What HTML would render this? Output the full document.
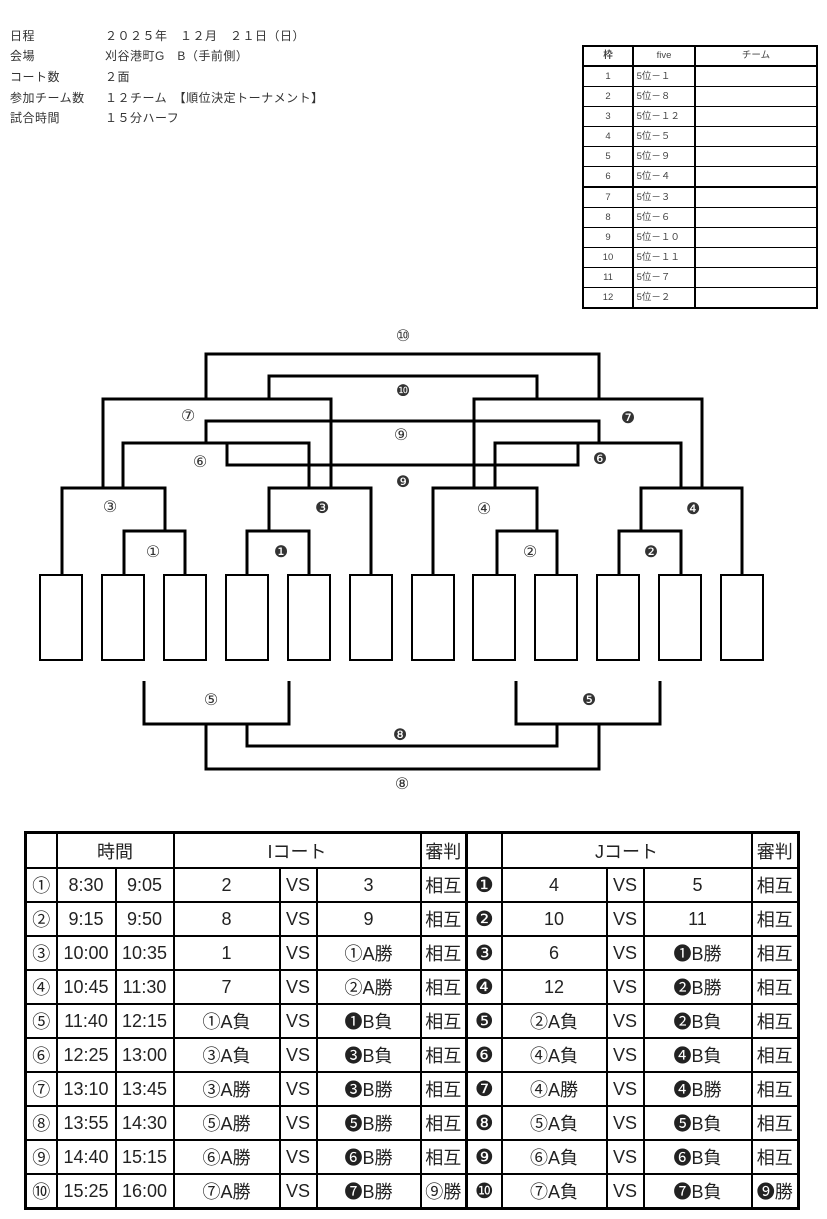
<!DOCTYPE html>
<html><head><meta charset="utf-8"><style>
body{margin:0;width:827px;height:1219px;background:#fff;position:relative;overflow:hidden;font-family:"Liberation Sans","Noto Sans CJK JP","DejaVu Sans",sans-serif;color:#333}
.info{position:absolute;font-size:12px;white-space:pre;letter-spacing:0.5px}
#t1{position:absolute;left:582px;top:45px;border-collapse:collapse;table-layout:fixed;font-size:9.5px}
#t1 td{border:1px solid #000;height:19px;padding:0;color:#444;line-height:12px}
#t1 tr:first-child td{height:18px}
#t2{position:absolute;left:24px;top:831px;border-collapse:collapse;table-layout:fixed;font-family:"Liberation Sans Narrow","Liberation Sans","Noto Sans CJK JP","DejaVu Sans",sans-serif;font-size:18px;color:#222}
#t2 td{border:2px solid #000;height:32px;padding:0;text-align:center;white-space:nowrap;overflow:hidden}
#t2 tr:first-child td{height:33px}
#t2 td.k{border-right:3px solid #000}
.n{font-family:"DejaVu Sans",sans-serif;font-size:21px}
</style></head><body>
<div class="info" style="left:10px;top:27px">日程</div><div class="info" style="left:105px;top:27px">２０２５年　１２月　２１日（日）</div>
<div class="info" style="left:10px;top:47px">会場</div><div class="info" style="left:105px;top:47px">刈谷港町G　B（手前側）</div>
<div class="info" style="left:10px;top:68px">コート数</div><div class="info" style="left:105px;top:68px">２面</div>
<div class="info" style="left:10px;top:89px">参加チーム数</div><div class="info" style="left:105px;top:89px">１２チーム　【順位決定トーナメント】</div>
<div class="info" style="left:10px;top:109px">試合時間</div><div class="info" style="left:105px;top:109px">１５分ハーフ</div>

<table id="t1" style="border:2px solid #000">
<colgroup><col style="width:50px"><col style="width:62px"><col style="width:122px"></colgroup>
<tr><td style="text-align:center;font-weight:bold;border-right:2px solid #000">枠</td><td style="text-align:center;border-right:2px solid #000">five</td><td style="text-align:center">チーム</td></tr>
<tr><td style="text-align:center;border-right:2px solid #000;border-top:2px solid #000">1</td><td style="border-right:2px solid #000;border-top:2px solid #000">&nbsp;5位－１</td><td style="border-top:2px solid #000"></td></tr>
<tr><td style="text-align:center;border-right:2px solid #000">2</td><td style="border-right:2px solid #000">&nbsp;5位－８</td><td></td></tr>
<tr><td style="text-align:center;border-right:2px solid #000">3</td><td style="border-right:2px solid #000">&nbsp;5位－１２</td><td></td></tr>
<tr><td style="text-align:center;border-right:2px solid #000">4</td><td style="border-right:2px solid #000">&nbsp;5位－５</td><td></td></tr>
<tr><td style="text-align:center;border-right:2px solid #000">5</td><td style="border-right:2px solid #000">&nbsp;5位－９</td><td></td></tr>
<tr><td style="text-align:center;border-right:2px solid #000">6</td><td style="border-right:2px solid #000">&nbsp;5位－４</td><td></td></tr>
<tr><td style="text-align:center;border-right:2px solid #000;border-top:2px solid #000">7</td><td style="border-right:2px solid #000;border-top:2px solid #000">&nbsp;5位－３</td><td style="border-top:2px solid #000"></td></tr>
<tr><td style="text-align:center;border-right:2px solid #000">8</td><td style="border-right:2px solid #000">&nbsp;5位－６</td><td></td></tr>
<tr><td style="text-align:center;border-right:2px solid #000">9</td><td style="border-right:2px solid #000">&nbsp;5位－１０</td><td></td></tr>
<tr><td style="text-align:center;border-right:2px solid #000">10</td><td style="border-right:2px solid #000">&nbsp;5位－１１</td><td></td></tr>
<tr><td style="text-align:center;border-right:2px solid #000">11</td><td style="border-right:2px solid #000">&nbsp;5位－７</td><td></td></tr>
<tr><td style="text-align:center;border-right:2px solid #000">12</td><td style="border-right:2px solid #000">&nbsp;5位－２</td><td></td></tr>
</table>

<svg width="827" height="800" style="position:absolute;left:0;top:0" xmlns="http://www.w3.org/2000/svg">
<g fill="#fff" stroke="#000" stroke-width="2">
<rect x="40" y="575" width="42" height="85"/><rect x="102" y="575" width="42" height="85"/><rect x="164" y="575" width="42" height="85"/><rect x="226" y="575" width="42" height="85"/><rect x="288" y="575" width="42" height="85"/><rect x="350" y="575" width="42" height="85"/><rect x="412" y="575" width="42" height="85"/><rect x="473" y="575" width="42" height="85"/><rect x="535" y="575" width="42" height="85"/><rect x="597" y="575" width="42" height="85"/><rect x="659" y="575" width="42" height="85"/><rect x="721" y="575" width="42" height="85"/>
</g>
<g fill="none" stroke="#000" stroke-width="3">
<polyline points="124,575 124,531 185,531 185,575"/>
<polyline points="62,575 62,488 165,488 165,531"/>
<polyline points="247,575 247,531 309,531 309,575"/>
<polyline points="269,531 269,488 371,488 371,575"/>
<polyline points="123,488 123,443 309,443 309,488"/>
<polyline points="103,488 103,399 331,399 331,488"/>
<polyline points="206,443 206,421 599,421 599,443"/>
<polyline points="227,443 227,465 578,465 578,443"/>
<polyline points="206,399 206,354 599,354 599,399"/>
<polyline points="269,399 269,376 537,376 537,399"/>
<polyline points="433,575 433,488 537,488 537,531"/>
<polyline points="497,575 497,531 557,531 557,575"/>
<polyline points="619,575 619,531 681,531 681,575"/>
<polyline points="641,531 641,488 742,488 742,575"/>
<polyline points="495,488 495,443 681,443 681,488"/>
<polyline points="474,488 474,399 702,399 702,488"/>
<polyline points="144,681 144,724 289,724 289,681"/>
<polyline points="516,681 516,724 660,724 660,681"/>
<polyline points="247,724 247,746 557,746 557,724"/>
<polyline points="206,724 206,769 599,769 599,724"/>
</g>
<g font-family="DejaVu Sans,sans-serif" font-size="16" text-anchor="middle" fill="#333">
<text x="403" y="341">⑩</text><text x="403" y="396">❿</text><text x="188" y="421">⑦</text><text x="628" y="423">❼</text>
<text x="401" y="440">⑨</text><text x="200" y="467">⑥</text><text x="600" y="464">❻</text><text x="403" y="487">❾</text>
<text x="110" y="512">③</text><text x="322" y="513">❸</text><text x="484" y="514">④</text><text x="693" y="514">❹</text>
<text x="153" y="557">①</text><text x="281" y="557">❶</text><text x="530" y="557">②</text><text x="651" y="557">❷</text>
<text x="211" y="705">⑤</text><text x="589" y="705">❺</text><text x="400" y="740">❽</text><text x="402" y="789">⑧</text>
</g>
</svg>

<table id="t2" style="border:3px solid #000">
<colgroup><col style="width:31px"><col style="width:59px"><col style="width:58px"><col style="width:106px"><col style="width:37px"><col style="width:104px"><col style="width:46px"><col style="width:35px"><col style="width:105px"><col style="width:37px"><col style="width:108px"><col style="width:47px"></colgroup>
<tr><td></td><td colspan="2">時間</td><td colspan="3">Iコート</td><td class="k">審判</td><td></td><td colspan="3">Jコート</td><td>審判</td></tr>
<tr><td>①</td><td>8:30</td><td>9:05</td><td>2</td><td>VS</td><td>3</td><td class="k">相互</td><td class="n">❶</td><td>4</td><td>VS</td><td>5</td><td>相互</td></tr>
<tr><td>②</td><td>9:15</td><td>9:50</td><td>8</td><td>VS</td><td>9</td><td class="k">相互</td><td class="n">❷</td><td>10</td><td>VS</td><td>11</td><td>相互</td></tr>
<tr><td>③</td><td>10:00</td><td>10:35</td><td>1</td><td>VS</td><td>①A勝</td><td class="k">相互</td><td class="n">❸</td><td>6</td><td>VS</td><td>❶B勝</td><td>相互</td></tr>
<tr><td>④</td><td>10:45</td><td>11:30</td><td>7</td><td>VS</td><td>②A勝</td><td class="k">相互</td><td class="n">❹</td><td>12</td><td>VS</td><td>❷B勝</td><td>相互</td></tr>
<tr><td>⑤</td><td>11:40</td><td>12:15</td><td>①A負</td><td>VS</td><td>❶B負</td><td class="k">相互</td><td class="n">❺</td><td>②A負</td><td>VS</td><td>❷B負</td><td>相互</td></tr>
<tr><td>⑥</td><td>12:25</td><td>13:00</td><td>③A負</td><td>VS</td><td>❸B負</td><td class="k">相互</td><td class="n">❻</td><td>④A負</td><td>VS</td><td>❹B負</td><td>相互</td></tr>
<tr><td>⑦</td><td>13:10</td><td>13:45</td><td>③A勝</td><td>VS</td><td>❸B勝</td><td class="k">相互</td><td class="n">❼</td><td>④A勝</td><td>VS</td><td>❹B勝</td><td>相互</td></tr>
<tr><td>⑧</td><td>13:55</td><td>14:30</td><td>⑤A勝</td><td>VS</td><td>❺B勝</td><td class="k">相互</td><td class="n">❽</td><td>⑤A負</td><td>VS</td><td>❺B負</td><td>相互</td></tr>
<tr><td>⑨</td><td>14:40</td><td>15:15</td><td>⑥A勝</td><td>VS</td><td>❻B勝</td><td class="k">相互</td><td class="n">❾</td><td>⑥A負</td><td>VS</td><td>❻B負</td><td>相互</td></tr>
<tr><td>⑩</td><td>15:25</td><td>16:00</td><td>⑦A勝</td><td>VS</td><td>❼B勝</td><td class="k">⑨勝</td><td class="n">❿</td><td>⑦A負</td><td>VS</td><td>❼B負</td><td>❾勝</td></tr>
</table>
</body></html>
